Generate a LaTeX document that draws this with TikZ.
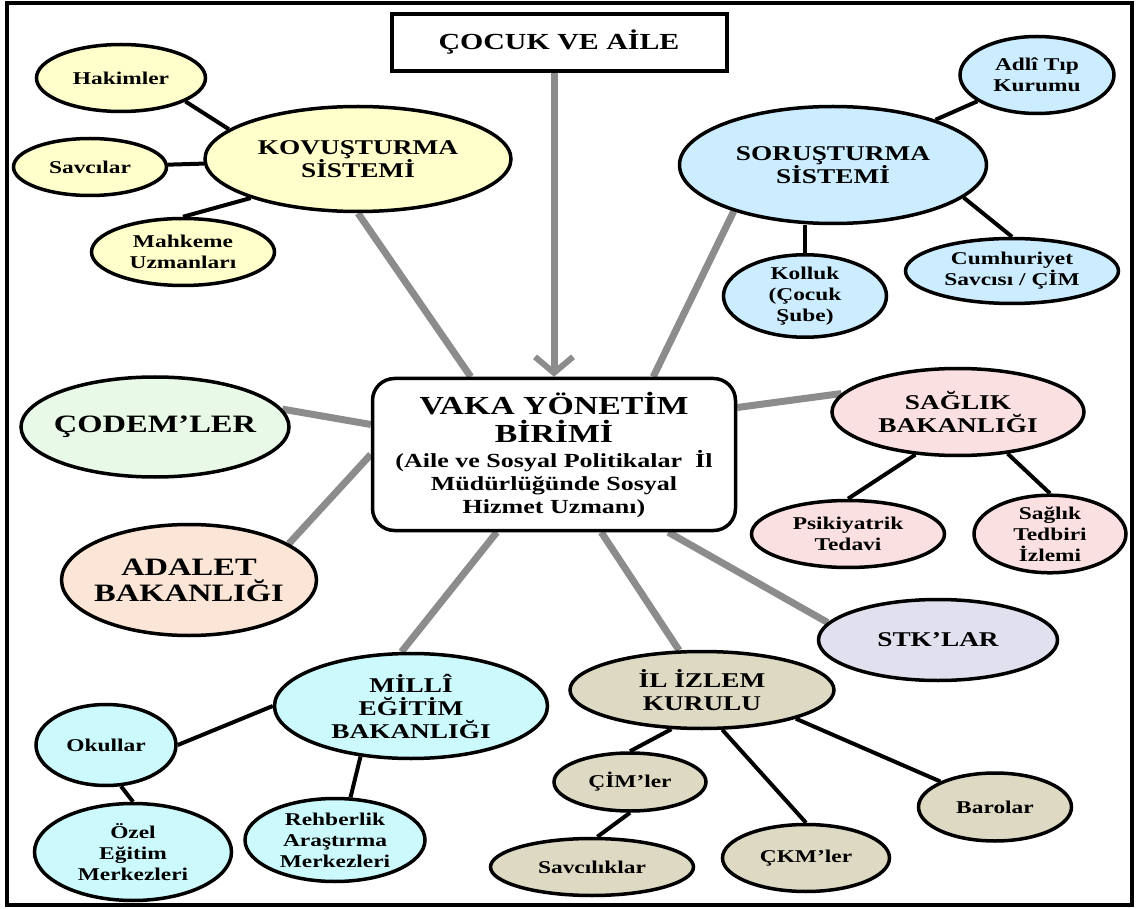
\documentclass[tikz,border=0pt]{standalone}
\usepackage{fontspec}
\setmainfont{Liberation Serif}[FakeStretch=1.3]
\usepackage{tikz}
\usetikzlibrary{arrows.meta, shapes.geometric, backgrounds}

\definecolor{linegray}{RGB}{140,140,140}
\definecolor{kovfill}{RGB}{255,255,204}
\definecolor{sorfill}{RGB}{204,236,255}
\definecolor{codemfill}{RGB}{232,249,232}
\definecolor{adaletfill}{RGB}{251,229,214}
\definecolor{saglikfill}{RGB}{250,224,224}
\definecolor{stkfill}{RGB}{224,224,238}
\definecolor{millifill}{RGB}{204,250,252}
\definecolor{ilfill}{RGB}{221,217,195}

\begin{document}
\begin{tikzpicture}[x=1pt, y=-1pt,
  bubble/.style={ellipse, draw, line width=3.5pt, inner sep=0pt, align=center},
  head/.style={font=\bfseries\fontsize{21}{23}\selectfont},
  wide/.style={font=\bfseries\fontsize{25}{26}\selectfont, inner sep=-8pt},
  leaf/.style={font=\bfseries\fontsize{18}{21}\selectfont},
  spoke/.style={draw=linegray, line width=7pt},
  link/.style={line width=4pt}]
\useasboundingbox (0,0) rectangle (1136,909);
\draw[line width=4pt] (7,3) rectangle (1132,905);

% Center and top
\node[draw, line width=4pt, fill=white, minimum width=335pt, minimum height=57pt,
  font=\bfseries\fontsize{23}{25}\selectfont] (title) at (559,42.5) {ÇOCUK VE AİLE};
\node[draw, rounded corners=22pt, line width=3.5pt, fill=white, minimum width=363pt,
  minimum height=152pt, align=center, font=\bfseries\fontsize{20}{23}\selectfont] (vaka) at (554,454.5)
  {{\fontsize{26}{28}\selectfont VAKA YÖNETİM}\\[5pt] {\fontsize{26}{28}\selectfont BİRİMİ}\\[2pt]
   (Aile ve Sosyal Politikalar~ İl\\ Müdürlüğünde Sosyal\\ Hizmet Uzmanı)};

% Kovusturma
\node[bubble, head, fill=kovfill, minimum width=306pt, minimum height=105pt] (kov) at (358,159) {KOVUŞTURMA\\SİSTEMİ};
\node[bubble, leaf, fill=kovfill, minimum width=169pt, minimum height=67pt] (hak) at (121,78) {Hakimler};
\node[bubble, leaf, fill=kovfill, minimum width=153pt, minimum height=57pt] (sav) at (90,167) {Savcılar};
\node[bubble, leaf, fill=kovfill, minimum width=183pt, minimum height=67pt] (mah) at (183,252) {Mahkeme\\Uzmanları};

% Sorusturma
\node[bubble, head, fill=sorfill, minimum width=307pt, minimum height=117pt] (sor) at (833,165) {SORUŞTURMA\\SİSTEMİ};
\node[bubble, leaf, fill=sorfill, minimum width=154pt, minimum height=77pt] (adli) at (1037,75) {Adlî Tıp\\Kurumu};
\node[bubble, leaf, fill=sorfill, minimum width=213pt, minimum height=65pt] (cumh) at (1012,271) {Cumhuriyet\\Savcısı / ÇİM};
\node[bubble, leaf, fill=sorfill, minimum width=163pt, minimum height=78pt] (kol) at (805,296) {Kolluk\\(Çocuk\\Şube)};

% Left side
\node[bubble, wide, fill=codemfill, minimum width=268pt, minimum height=100pt] (codem) at (155,427) {ÇODEM’LER};
\node[bubble, wide, fill=adaletfill, minimum width=255pt, minimum height=111pt] (adalet) at (189,580) {ADALET\\BAKANLIĞI};

% Saglik
\node[bubble, head, fill=saglikfill, minimum width=252pt, minimum height=87pt] (sag) at (958,412) {SAĞLIK\\BAKANLIĞI};
\node[bubble, leaf, fill=saglikfill, minimum width=193pt, minimum height=67pt] (psi) at (848,534) {Psikiyatrik\\Tedavi};
\node[bubble, leaf, fill=saglikfill, minimum width=152pt, minimum height=68pt] (ted) at (1050,534) {Sağlık\\Tedbiri\\İzlemi};

\node[bubble, head, fill=stkfill, minimum width=239pt, minimum height=81pt] (stk) at (938,640) {STK’LAR};

% Milli Egitim
\node[bubble, head, fill=millifill, minimum width=273pt, minimum height=105pt] (milli) at (411,706) {MİLLÎ\\EĞİTİM\\BAKANLIĞI};
\node[bubble, leaf, fill=millifill, minimum width=140pt, minimum height=81pt] (okul) at (106,745) {Okullar};
\node[bubble, leaf, fill=millifill, minimum width=197pt, minimum height=97pt] (ozel) at (133,852) {Özel\\Eğitim\\Merkezleri};
\node[bubble, leaf, fill=millifill, minimum width=180pt, minimum height=83pt] (reh) at (335,840) {Rehberlik\\Araştırma\\Merkezleri};

% Il Izlem
\node[bubble, head, fill=ilfill, minimum width=264pt, minimum height=77pt] (il) at (702,690) {İL İZLEM\\KURULU};
\node[bubble, leaf, fill=ilfill, minimum width=152pt, minimum height=58pt] (cim) at (630,782) {ÇİM’ler};
\node[bubble, leaf, fill=ilfill, minimum width=203pt, minimum height=57pt] (savk) at (592,867) {Savcılıklar};
\node[bubble, leaf, fill=ilfill, minimum width=167pt, minimum height=67pt] (ckm) at (806,858) {ÇKM’ler};
\node[bubble, leaf, fill=ilfill, minimum width=153pt, minimum height=68pt] (baro) at (995,807) {Barolar};

\begin{scope}[on background layer]
% Gray spokes to the center
\draw[spoke, -{Straight Barb[length=16pt, width=38pt, line width=6pt]}] (title.south -| vaka.north) -- (vaka.north);
\draw[spoke] (kov.south) -- ([xshift=100pt]vaka.north west);
\draw[spoke] (sor.205) -- ([xshift=-84pt]vaka.north east);
\draw[spoke] (sag.171) -- ([yshift=47pt]vaka.east);
\draw[spoke] (codem.8) -- ([yshift=30pt]vaka.west);
\draw[spoke] (adalet.20) -- (vaka.west);
\draw[spoke] (milli.100) -- ([xshift=126pt]vaka.south west);
\draw[spoke] (il.120) -- ([xshift=-136pt]vaka.south east);
\draw[spoke] (stk.171) -- ([xshift=-69pt]vaka.south east);

% Black links
\draw[link] (hak.-20) -- (kov.167);
\draw[link] (sav) -- (kov);
\draw[link] (mah.north) -- (kov.200);
\draw[link] (adli) -- (sor);
\draw[link] (sor.-14) -- (cumh.north);
\draw[link] (kol.north) -- (kol.north |- sor.south);
\draw[link] (sag.225) -- (psi.north);
\draw[link] (sag.-40) -- (ted.north);
\draw[link] (milli.west) -- (okul.east);
\draw[link] (okul.-70) -- (ozel.north);
\draw[link] (milli.225) -- (reh.70);
\draw[link] (il.232) -- (cim.north);
\draw[link] (cim.south) -- (savk.80);
\draw[link] (il.-63) -- (ckm.north);
\draw[link] (il.-17) -- (baro.155);
\end{scope}
\end{tikzpicture}
\end{document}
